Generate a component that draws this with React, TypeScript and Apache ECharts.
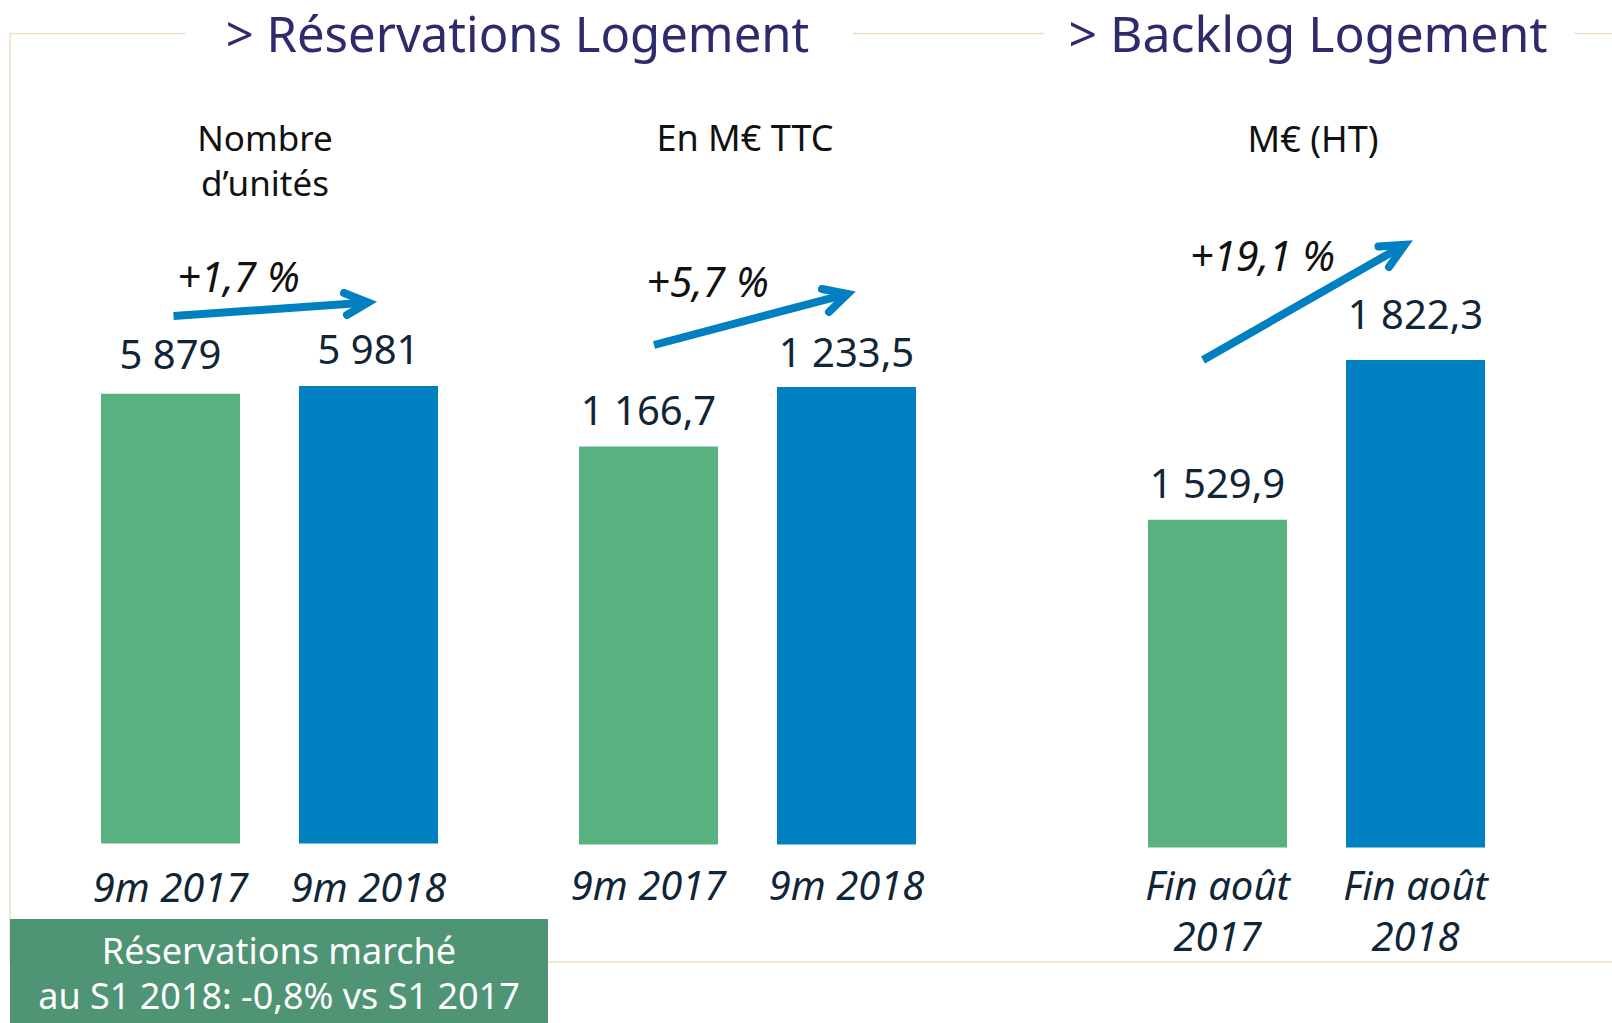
import React, { useEffect, useRef } from 'react';
import * as echarts from 'echarts';

// ---- data ----
const reservationCategories = ['9m 2017', '9m 2018'];
const backlogCategories = ['Fin août\n2017', 'Fin août\n2018'];
const unitValues = [5879, 5981];
const amountValues = [1166.7, 1233.5];
const backlogValues = [1529.9, 1822.3];
const growthLabels = ['+1,7 %', '+5,7 %', '+19,1 %'];
const sectionTitles = ['> Réservations Logement', '> Backlog Logement'];
const chartSubtitles = ['Nombre', 'd’unités', 'En M€ TTC', 'M€ (HT)'];
const marketNote = ['Réservations marché', 'au S1 2018: -0,8% vs S1 2017'];

// ---- styles ----
const FONT = '"Noto Sans", sans-serif';
const GREEN = '#5AB180';
const BLUE = '#0080C0';
const VALUE_COLOR = '#102536';
const TITLE_COLOR = '#2D2B6B';
const FRAME = '#F0DCC4';
const BOX = '#4E9475';

function formatFr(v: number, decimals: number): string {
  const s = v.toFixed(decimals);
  const [i, d] = s.split('.');
  const ip = i.replace(/\B(?=(\d{3})+(?!\d))/g, ' ');
  return d ? ip + ',' + d : ip;
}

function barSeries(idx: number, values: number[], decimals: number, distances: number[]) {
  return {
    type: 'bar',
    xAxisIndex: idx,
    yAxisIndex: idx,
    barWidth: 139,
    clip: true,
    data: values.map((v, i) => ({
      value: v,
      itemStyle: { color: i === 0 ? GREEN : BLUE },
      label: { distance: distances[i] },
    })),
    label: {
      show: true,
      position: 'top',
      fontSize: 40,
      lineHeight: 40,
      fontFamily: FONT,
      color: VALUE_COLOR,
      formatter: (p: any) => formatFr(p.value, decimals),
    },
  };
}

function catAxis(idx: number, cats: string[], margin: number, lineHeight: number) {
  return {
    type: 'category',
    gridIndex: idx,
    data: cats,
    axisLine: { show: false },
    axisTick: { show: false },
    splitLine: { show: false },
    axisLabel: {
      interval: 0,
      fontSize: 40,
      lineHeight,
      fontStyle: 'italic',
      fontFamily: FONT,
      color: VALUE_COLOR,
      margin,
    },
  };
}

function text(x: number, y: number, t: string, opts: any = {}) {
  return {
    type: 'text',
    x,
    y,
    z: 100,
    style: {
      text: t,
      fill: opts.fill || '#111111',
      fontSize: opts.fontSize || 36,
      fontFamily: FONT,
      fontStyle: opts.fontStyle || 'normal',
      align: 'center',
      verticalAlign: 'middle',
      textAlign: 'center',
      textVerticalAlign: 'middle',
    },
  };
}

function line(x1: number, y1: number, x2: number, y2: number, color: string, w: number, cap = 'butt') {
  return {
    type: 'line',
    z: 90,
    shape: { x1, y1, x2, y2 },
    style: { stroke: color, lineWidth: w, lineCap: cap },
  };
}

function arrow(start: number[], tip: number[], w1: number[], w2: number[]) {
  return [
    line(start[0], start[1], tip[0] - (tip[0] - start[0]) * 0.02, tip[1] - (tip[1] - start[1]) * 0.02, BLUE, 8, 'butt'),
    {
      type: 'polyline',
      z: 90,
      shape: { points: [w1, tip, w2] },
      style: { stroke: BLUE, lineWidth: 8, lineCap: 'round', lineJoin: 'miter', fill: null },
    },
  ];
}

export default function App() {
  const ref = useRef<HTMLDivElement>(null);

  useEffect(() => {
    if (!ref.current) return;
    const chart = echarts.init(ref.current, undefined, { renderer: 'svg' });

    const option: any = {
      animation: false,
      backgroundColor: '#ffffff',
      grid: [
        { left: 71.5, width: 396, top: 308, height: 535.5 },
        { left: 549.5, width: 396, top: 327.7, height: 516.8 },
        { left: 1118.5, width: 396, top: 317.6, height: 529.9 },
      ],
      xAxis: [
        catAxis(0, reservationCategories, 23, 40),
        catAxis(1, reservationCategories, 20, 40),
        catAxis(2, backlogCategories, 11, 51),
      ],
      yAxis: [
        { type: 'value', gridIndex: 0, min: 0, max: 7000, show: false },
        { type: 'value', gridIndex: 1, min: 720, max: 1300, show: false },
        { type: 'value', gridIndex: 2, min: 930, max: 1900, show: false },
      ],
      series: [
        barSeries(0, unitValues, 0, [20, 17]),
        barSeries(1, amountValues, 1, [17, 15]),
        barSeries(2, backlogValues, 1, [17, 27]),
      ],
      graphic: [
        // frame
        line(10, 33.5, 185, 33.5, FRAME, 1.5),
        line(853, 33.5, 1044, 33.5, FRAME, 1.5),
        line(1574, 33.5, 1612, 33.5, FRAME, 1.5),
        line(10, 33.5, 10, 962, FRAME, 1.5),
        line(10, 962, 1612, 962, FRAME, 1.5),
        // market note box
        { type: 'rect', z: 95, shape: { x: 10, y: 919, width: 538, height: 104 }, style: { fill: BOX } },
        text(279, 950, marketNote[0], { fill: '#ffffff', fontSize: 36 }),
        text(279, 995, marketNote[1], { fill: '#ffffff', fontSize: 36 }),
        // section titles
        text(517.5, 32.5, sectionTitles[0], { fill: TITLE_COLOR, fontSize: 49 }),
        text(1308, 32.5, sectionTitles[1], { fill: TITLE_COLOR, fontSize: 50 }),
        // subtitles
        text(265, 137.5, chartSubtitles[0], { fontSize: 35 }),
        text(265, 182.5, chartSubtitles[1], { fontSize: 35 }),
        text(745, 137, chartSubtitles[2], { fontSize: 36 }),
        text(1313, 138, chartSubtitles[3], { fontSize: 36 }),
        // growth labels
        text(238.5, 276, growthLabels[0], { fontSize: 41, fontStyle: 'italic' }),
        text(707.5, 281, growthLabels[1], { fontSize: 41, fontStyle: 'italic' }),
        text(1262.5, 255, growthLabels[2], { fontSize: 41, fontStyle: 'italic' }),
        // arrows
        ...arrow([173.5, 316], [368, 302.5], [344, 293], [347, 315]),
        ...arrow([654, 345], [847.5, 293.9], [822, 289], [829, 312]),
        ...arrow([1203, 360], [1404.8, 244.7], [1378.5, 246.5], [1389, 267]),
      ],
    };

    chart.setOption(option);
    return () => chart.dispose();
  }, []);

  return (
    <div
      ref={ref}
      style={{ position: 'absolute', left: 0, top: 0, width: 1612, height: 1023, background: '#ffffff' }}
    />
  );
}
